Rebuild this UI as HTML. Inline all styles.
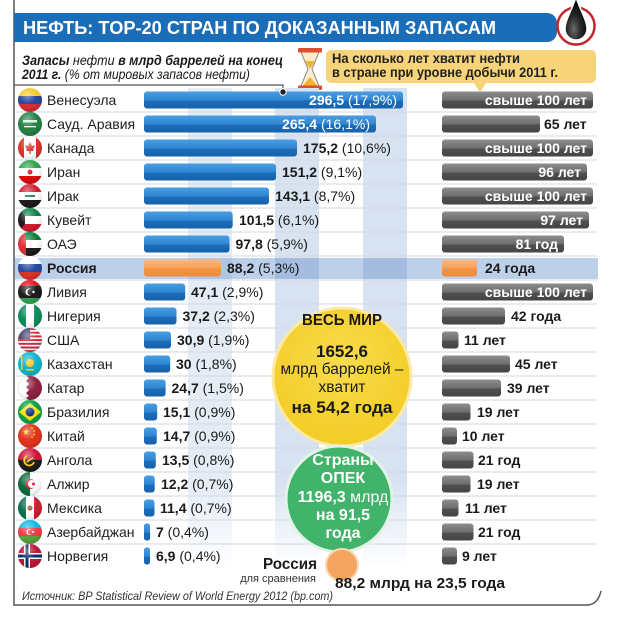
<!DOCTYPE html>
<html><head><meta charset="utf-8">
<style>
html,body{margin:0;padding:0;background:#fff;}
svg{display:block;}
text{font-family:"Liberation Sans",Arial,sans-serif;}
</style></head><body>
<svg width="627" height="617" viewBox="0 0 627 617" xmlns="http://www.w3.org/2000/svg">
<defs>
 <clipPath id="fc"><circle cx="0" cy="0" r="12"/></clipPath>
 <linearGradient id="gb" x1="0" y1="0" x2="0" y2="1">
  <stop offset="0" stop-color="#4a9de2"/><stop offset="0.5" stop-color="#2f86d2"/>
  <stop offset="0.56" stop-color="#1b6dbc"/><stop offset="1" stop-color="#1662ab"/>
 </linearGradient>
 <linearGradient id="gg" x1="0" y1="0" x2="0" y2="1">
  <stop offset="0" stop-color="#8e8e8e"/><stop offset="0.5" stop-color="#6e6e6e"/>
  <stop offset="0.56" stop-color="#505050"/><stop offset="1" stop-color="#444"/>
 </linearGradient>
 <linearGradient id="go" x1="0" y1="0" x2="0" y2="1">
  <stop offset="0" stop-color="#fbb87c"/><stop offset="0.5" stop-color="#f7a05a"/>
  <stop offset="0.56" stop-color="#f39244"/><stop offset="1" stop-color="#ef8a3c"/>
 </linearGradient>
 <linearGradient id="st1" x1="0" y1="0" x2="0" y2="1">
  <stop offset="0" stop-color="#e4ecf6"/><stop offset="0.82" stop-color="#e4ecf6"/><stop offset="1" stop-color="#e4ecf6" stop-opacity="0"/>
 </linearGradient>
 <linearGradient id="st2" x1="0" y1="0" x2="0" y2="1">
  <stop offset="0" stop-color="#d8e3f1"/><stop offset="0.82" stop-color="#d8e3f1"/><stop offset="1" stop-color="#d8e3f1" stop-opacity="0"/>
 </linearGradient>
 <radialGradient id="gl" cx="0.4" cy="0.3" r="0.75">
  <stop offset="0" stop-color="#fff" stop-opacity="0.45"/><stop offset="0.5" stop-color="#fff" stop-opacity="0.05"/>
  <stop offset="1" stop-color="#000" stop-opacity="0.15"/>
 </radialGradient>
 <radialGradient id="gy" cx="0.5" cy="0.4" r="0.6">
  <stop offset="0" stop-color="#f9dc4c"/><stop offset="1" stop-color="#f3cc26"/>
 </radialGradient>
 <radialGradient id="gd" cx="0.4" cy="0.75" r="0.6">
  <stop offset="0" stop-color="#6a6a6a"/><stop offset="0.5" stop-color="#2a2a2a"/><stop offset="1" stop-color="#0a0a0a"/>
 </radialGradient>
</defs>

<!-- frame -->
<path d="M14,0 V605 H588 Q598,604 601,591" fill="none" stroke="#555" stroke-width="1.5"/>

<!-- header -->
<path d="M14,13 H547 A10,10 0 0 1 557,23 V32 A10,10 0 0 1 547,42 H14 Z" fill="#1b6db7"/>
<text x="23" y="34" font-size="18" font-weight="bold" fill="#fff" textLength="473" lengthAdjust="spacingAndGlyphs">НЕФТЬ: TOP-20 СТРАН ПО ДОКАЗАННЫМ ЗАПАСАМ</text>
<circle cx="576" cy="26" r="18.5" fill="#fff" stroke="#c4262e" stroke-width="2.5"/>
<path d="M576,-3 C572,10 565,20 565,29 A11,11 0 0 0 587,29 C587,20 580,10 576,-3 Z" fill="url(#gd)" stroke="#fff" stroke-width="1.5"/>

<!-- subtitle -->
<text x="22" y="65" font-size="14" font-style="italic" fill="#1a1a1a" textLength="261" lengthAdjust="spacingAndGlyphs"><tspan font-weight="bold">Запасы</tspan> нефти <tspan font-weight="bold">в млрд баррелей на конец</tspan></text>
<text x="22" y="79" font-size="14" font-style="italic" fill="#1a1a1a" textLength="228" lengthAdjust="spacingAndGlyphs"><tspan font-weight="bold">2011 г.</tspan> (% от мировых запасов нефти)</text>
<path d="M14,85 H283 V90" fill="none" stroke="#555" stroke-width="1.2"/>

<!-- hourglass -->
<path d="M301,52 L319,52 L312,69 L319,86 L301,86 L308,69 Z" fill="#fbeccc" stroke="#8a8a8a" stroke-width="1"/>
<polygon points="305,61 315,61 310.6,68 309.4,68" fill="#f2b532"/>
<polygon points="302.5,86 317.5,86 310,77" fill="#f2b532"/>
<rect x="298" y="48" width="24" height="4.5" rx="1" fill="#db4f31"/>
<rect x="298" y="85.5" width="24" height="4.5" rx="1" fill="#db4f31"/>

<!-- yellow box -->
<rect x="326" y="50" width="270" height="33" rx="5" fill="#f7d47a"/>
<polygon points="473,82 487,82 480,92" fill="#f7d47a"/>
<text x="332" y="63" font-size="14" font-weight="bold" fill="#222" textLength="188" lengthAdjust="spacingAndGlyphs">На сколько лет хватит нефти</text>
<text x="332" y="77" font-size="14" font-weight="bold" fill="#222" textLength="226" lengthAdjust="spacingAndGlyphs">в стране при уровне добычи 2011 г.</text>

<!-- stripes -->
<rect x="188" y="88" width="44" height="480" fill="url(#st1)"/>
<rect x="275" y="88" width="44" height="480" fill="url(#st2)"/>
<rect x="363" y="88" width="44" height="480" fill="url(#st2)"/>

<!-- Russia band -->
<rect x="15" y="258" width="583" height="21" fill="#bdd0ea"/>
<rect x="188" y="258" width="44" height="21" fill="#afc5e4"/>
<rect x="275" y="258" width="44" height="21" fill="#a3bce0"/>
<rect x="363" y="258" width="44" height="21" fill="#a3bce0"/>

<!-- separators -->
<g stroke="#cfd8e6" stroke-width="1">
<line x1="15" x2="597" y1="112" y2="112"/><line x1="15" x2="597" y1="136" y2="136"/>
<line x1="15" x2="597" y1="160" y2="160"/><line x1="15" x2="597" y1="184" y2="184"/>
<line x1="15" x2="597" y1="208" y2="208"/><line x1="15" x2="597" y1="232" y2="232"/>
<line x1="15" x2="597" y1="256" y2="256"/><line x1="15" x2="597" y1="280" y2="280"/>
<line x1="15" x2="597" y1="304" y2="304"/><line x1="15" x2="597" y1="328" y2="328"/>
<line x1="15" x2="597" y1="352" y2="352"/><line x1="15" x2="597" y1="376" y2="376"/>
<line x1="15" x2="597" y1="400" y2="400"/><line x1="15" x2="597" y1="424" y2="424"/>
<line x1="15" x2="597" y1="448" y2="448"/><line x1="15" x2="597" y1="472" y2="472"/>
<line x1="15" x2="597" y1="496" y2="496"/><line x1="15" x2="597" y1="520" y2="520"/>
<line x1="15" x2="597" y1="544" y2="544"/>
</g>

<!-- flags -->
<g transform="translate(30,100)"><g clip-path="url(#fc)"><rect x="-12" y="-12" width="24" height="8" fill="#f4c81b"/><rect x="-12" y="-4" width="24" height="8" fill="#1d3e96"/><rect x="-12" y="4" width="24" height="8" fill="#d4232c"/></g><circle r="12" fill="url(#gl)"/></g>
<g transform="translate(30,124)"><g clip-path="url(#fc)"><rect x="-12" y="-12" width="24" height="24" fill="#1a7a3a"/><rect x="-7" y="-4" width="14" height="2.5" fill="#fff" opacity="0.85"/><rect x="-6" y="2" width="12" height="1.3" fill="#fff"/></g><circle r="12" fill="url(#gl)"/></g>
<g transform="translate(30,148)"><g clip-path="url(#fc)"><rect x="-12" y="-12" width="24" height="24" fill="#fff"/><rect x="-12" y="-12" width="6" height="24" fill="#d52b1e"/><rect x="6" y="-12" width="6" height="24" fill="#d52b1e"/><polygon points="0,-6 2,-2 5,-3 3,2 4,3 0.6,3 0.6,6 -0.6,6 -0.6,3 -4,3 -3,2 -5,-3 -2,-2" fill="#d52b1e"/></g><circle r="12" fill="url(#gl)"/></g>
<g transform="translate(30,172)"><g clip-path="url(#fc)"><rect x="-12" y="-12" width="24" height="8" fill="#239f40"/><rect x="-12" y="-4" width="24" height="8" fill="#fff"/><rect x="-12" y="4" width="24" height="8" fill="#da0000"/><circle r="2.5" fill="#da0000"/></g><circle r="12" fill="url(#gl)"/></g>
<g transform="translate(30,196)"><g clip-path="url(#fc)"><rect x="-12" y="-12" width="24" height="8" fill="#ce1126"/><rect x="-12" y="-4" width="24" height="8" fill="#fff"/><rect x="-12" y="4" width="24" height="8" fill="#111"/><rect x="-5" y="-1" width="10" height="2" fill="#007a3d"/></g><circle r="12" fill="url(#gl)"/></g>
<g transform="translate(30,220)"><g clip-path="url(#fc)"><rect x="-12" y="-12" width="24" height="8" fill="#007a3d"/><rect x="-12" y="-4" width="24" height="8" fill="#fff"/><rect x="-12" y="4" width="24" height="8" fill="#ce1126"/><polygon points="-12,-12 -5,-4 -5,4 -12,12" fill="#111"/></g><circle r="12" fill="url(#gl)"/></g>
<g transform="translate(30,244)"><g clip-path="url(#fc)"><rect x="-12" y="-12" width="24" height="8" fill="#00732f"/><rect x="-12" y="-4" width="24" height="8" fill="#fff"/><rect x="-12" y="4" width="24" height="8" fill="#111"/><rect x="-12" y="-12" width="8" height="24" fill="#e0232f"/></g><circle r="12" fill="url(#gl)"/></g>
<g transform="translate(30,268)"><g clip-path="url(#fc)"><rect x="-12" y="-12" width="24" height="8" fill="#fff"/><rect x="-12" y="-4" width="24" height="8" fill="#1c3f9e"/><rect x="-12" y="4" width="24" height="8" fill="#d52b1e"/></g><circle r="12" fill="url(#gl)"/></g>
<g transform="translate(30,292)"><g clip-path="url(#fc)"><rect x="-12" y="-12" width="24" height="6" fill="#e70013"/><rect x="-12" y="-6" width="24" height="12" fill="#111"/><rect x="-12" y="6" width="24" height="6" fill="#239e46"/><circle cx="-1" cy="0" r="3.6" fill="#fff"/><circle cx="0.4" cy="0" r="3" fill="#111"/><circle cx="3.5" cy="0" r="1.2" fill="#fff"/></g><circle r="12" fill="url(#gl)"/></g>
<g transform="translate(30,316)"><g clip-path="url(#fc)"><rect x="-12" y="-12" width="24" height="24" fill="#fff"/><rect x="-12" y="-12" width="8" height="24" fill="#008751"/><rect x="4" y="-12" width="8" height="24" fill="#008751"/></g><circle r="12" fill="url(#gl)"/></g>
<g transform="translate(30,340)"><g clip-path="url(#fc)"><rect x="-12" y="-12" width="24" height="24" fill="#fff"/><rect x="-12" y="-12" width="24" height="2" fill="#c8202f"/><rect x="-12" y="-8.3" width="24" height="2" fill="#c8202f"/><rect x="-12" y="-4.6" width="24" height="2" fill="#c8202f"/><rect x="-12" y="-0.9" width="24" height="2" fill="#c8202f"/><rect x="-12" y="2.8" width="24" height="2" fill="#c8202f"/><rect x="-12" y="6.5" width="24" height="2" fill="#c8202f"/><rect x="-12" y="10.2" width="24" height="2" fill="#c8202f"/><rect x="-12" y="-12" width="12" height="11" fill="#3c3b6e"/></g><circle r="12" fill="url(#gl)"/></g>
<g transform="translate(30,364)"><g clip-path="url(#fc)"><rect x="-12" y="-12" width="24" height="24" fill="#00afca"/><circle cx="0" cy="-1" r="4" fill="#fec50c"/><rect x="-9" y="-8" width="1.5" height="14" fill="#fec50c"/><rect x="-4" y="5" width="8" height="1.5" fill="#fec50c"/></g><circle r="12" fill="url(#gl)"/></g>
<g transform="translate(30,388)"><g clip-path="url(#fc)"><rect x="-12" y="-12" width="24" height="24" fill="#8a1538"/><polygon points="-12,-12 -4,-12 -1,-10 -4,-7 -1,-4 -4,-1 -1,2 -4,5 -1,8 -4,10 -1,12 -12,12" fill="#fff"/></g><circle r="12" fill="url(#gl)"/></g>
<g transform="translate(30,412)"><g clip-path="url(#fc)"><rect x="-12" y="-12" width="24" height="24" fill="#009c3b"/><polygon points="0,-9 11,0 0,9 -11,0" fill="#ffdf00"/><circle r="4.5" fill="#002776"/></g><circle r="12" fill="url(#gl)"/></g>
<g transform="translate(30,436)"><g clip-path="url(#fc)"><rect x="-12" y="-12" width="24" height="24" fill="#de2910"/><polygon transform="translate(-4,-4)" points="0,-3.5 0.82,-1.13 3.33,-1.08 1.33,0.43 2.06,2.83 0,1.4 -2.06,2.83 -1.33,0.43 -3.33,-1.08 -0.82,-1.13" fill="#ffde00"/><circle cx="2" cy="-8" r="0.9" fill="#ffde00"/><circle cx="4" cy="-5" r="0.9" fill="#ffde00"/><circle cx="4" cy="-1.5" r="0.9" fill="#ffde00"/><circle cx="2" cy="1" r="0.9" fill="#ffde00"/></g><circle r="12" fill="url(#gl)"/></g>
<g transform="translate(30,460)"><g clip-path="url(#fc)"><rect x="-12" y="-12" width="24" height="12" fill="#cc092f"/><rect x="-12" y="0" width="24" height="12" fill="#111"/><path d="M-3,-4 A5,5 0 1 0 4,2" fill="none" stroke="#ffcb00" stroke-width="1.8"/><rect x="-4" y="-1" width="8" height="1.6" fill="#ffcb00" transform="rotate(-35)"/></g><circle r="12" fill="url(#gl)"/></g>
<g transform="translate(30,484)"><g clip-path="url(#fc)"><rect x="-12" y="-12" width="24" height="24" fill="#fff"/><rect x="-12" y="-12" width="12" height="24" fill="#006233"/><circle cx="0.5" cy="0" r="5" fill="#d21034"/><circle cx="2" cy="0" r="4" fill="#fff"/><circle cx="3.5" cy="0" r="1.5" fill="#d21034"/></g><circle r="12" fill="url(#gl)"/></g>
<g transform="translate(30,508)"><g clip-path="url(#fc)"><rect x="-12" y="-12" width="8" height="24" fill="#006847"/><rect x="-4" y="-12" width="8" height="24" fill="#fff"/><rect x="4" y="-12" width="8" height="24" fill="#ce1126"/><circle r="2.6" fill="#8c5a2b"/></g><circle r="12" fill="url(#gl)"/></g>
<g transform="translate(30,532)"><g clip-path="url(#fc)"><rect x="-12" y="-12" width="24" height="8" fill="#00b5e2"/><rect x="-12" y="-4" width="24" height="8" fill="#ef3340"/><rect x="-12" y="4" width="24" height="8" fill="#509e2f"/><circle cx="-0.5" cy="0" r="3" fill="#fff"/><circle cx="0.4" cy="0" r="2.4" fill="#ef3340"/><circle cx="3" cy="0" r="1" fill="#fff"/></g><circle r="12" fill="url(#gl)"/></g>
<g transform="translate(30,556)"><g clip-path="url(#fc)"><rect x="-12" y="-12" width="24" height="24" fill="#ba0c2f"/><rect x="-6" y="-12" width="6" height="24" fill="#fff"/><rect x="-12" y="-3" width="24" height="6" fill="#fff"/><rect x="-4.5" y="-12" width="3" height="24" fill="#00205b"/><rect x="-12" y="-1.5" width="24" height="3" fill="#00205b"/></g><circle r="12" fill="url(#gl)"/></g>

<!-- country names -->
<g font-size="14" fill="#1e1e1e">
<text x="47" y="105">Венесуэла</text>
<text x="47" y="129">Сауд. Аравия</text>
<text x="47" y="153">Канада</text>
<text x="47" y="177">Иран</text>
<text x="47" y="201">Ирак</text>
<text x="47" y="225">Кувейт</text>
<text x="47" y="249">ОАЭ</text>
<text x="47" y="273" font-weight="bold">Россия</text>
<text x="47" y="297">Ливия</text>
<text x="47" y="321">Нигерия</text>
<text x="47" y="345">США</text>
<text x="47" y="369">Казахстан</text>
<text x="47" y="393">Катар</text>
<text x="47" y="417">Бразилия</text>
<text x="47" y="441">Китай</text>
<text x="47" y="465">Ангола</text>
<text x="47" y="489">Алжир</text>
<text x="47" y="513">Мексика</text>
<text x="47" y="537">Азербайджан</text>
<text x="47" y="561">Норвегия</text>
</g>

<!-- reserve bars -->
<g fill="url(#gb)">
<rect x="144" y="91.5" width="259" height="17" rx="3"/>
<rect x="144" y="115.5" width="232" height="17" rx="3"/>
<rect x="144" y="139.5" width="153" height="17" rx="3"/>
<rect x="144" y="163.5" width="132" height="17" rx="3"/>
<rect x="144" y="187.5" width="125" height="17" rx="3"/>
<rect x="144" y="211.5" width="88.7" height="17" rx="3"/>
<rect x="144" y="235.5" width="85.5" height="17" rx="3"/>
<rect x="144" y="283.5" width="41.2" height="17" rx="3"/>
<rect x="144" y="307.5" width="32.5" height="17" rx="3"/>
<rect x="144" y="331.5" width="27" height="17" rx="3"/>
<rect x="144" y="355.5" width="26.2" height="17" rx="3"/>
<rect x="144" y="379.5" width="21.6" height="17" rx="3"/>
<rect x="144" y="403.5" width="13.2" height="17" rx="3"/>
<rect x="144" y="427.5" width="12.8" height="17" rx="3"/>
<rect x="144" y="451.5" width="11.8" height="17" rx="3"/>
<rect x="144" y="475.5" width="10.7" height="17" rx="3"/>
<rect x="144" y="499.5" width="10.5" height="17" rx="3"/>
<rect x="144" y="523.5" width="6.1" height="17" rx="2.5"/>
<rect x="144" y="547.5" width="6" height="17" rx="2.5"/>
</g>
<rect x="144" y="259.5" width="77" height="17" rx="3" fill="url(#go)"/>
<circle cx="283" cy="92" r="3.2" fill="#222" stroke="#fff" stroke-width="1"/>

<!-- reserve labels -->
<g font-size="14" fill="#1a1a1a">
<text x="397" y="105" text-anchor="end" fill="#fff"><tspan font-weight="bold">296,5</tspan> (17,9%)</text>
<text x="370" y="129" text-anchor="end" fill="#fff"><tspan font-weight="bold">265,4</tspan> (16,1%)</text>
<text x="303" y="153"><tspan font-weight="bold">175,2</tspan> (10,6%)</text>
<text x="282" y="177"><tspan font-weight="bold">151,2</tspan> (9,1%)</text>
<text x="275" y="201"><tspan font-weight="bold">143,1</tspan> (8,7%)</text>
<text x="239" y="225"><tspan font-weight="bold">101,5</tspan> (6,1%)</text>
<text x="235.5" y="249"><tspan font-weight="bold">97,8</tspan> (5,9%)</text>
<text x="227" y="273"><tspan font-weight="bold">88,2</tspan> (5,3%)</text>
<text x="191" y="297"><tspan font-weight="bold">47,1</tspan> (2,9%)</text>
<text x="182.5" y="321"><tspan font-weight="bold">37,2</tspan> (2,3%)</text>
<text x="177" y="345"><tspan font-weight="bold">30,9</tspan> (1,9%)</text>
<text x="176" y="369"><tspan font-weight="bold">30</tspan> (1,8%)</text>
<text x="171.5" y="393"><tspan font-weight="bold">24,7</tspan> (1,5%)</text>
<text x="163" y="417"><tspan font-weight="bold">15,1</tspan> (0,9%)</text>
<text x="163" y="441"><tspan font-weight="bold">14,7</tspan> (0,9%)</text>
<text x="162" y="465"><tspan font-weight="bold">13,5</tspan> (0,8%)</text>
<text x="161" y="489"><tspan font-weight="bold">12,2</tspan> (0,7%)</text>
<text x="160" y="513"><tspan font-weight="bold">11,4</tspan> (0,7%)</text>
<text x="156" y="537"><tspan font-weight="bold">7</tspan> (0,4%)</text>
<text x="156" y="561"><tspan font-weight="bold">6,9</tspan> (0,4%)</text>
</g>

<!-- years bars -->
<g fill="url(#gg)">
<rect x="442" y="91.5" width="151" height="17" rx="3"/>
<rect x="442" y="115.5" width="98" height="17" rx="3"/>
<rect x="442" y="139.5" width="151" height="17" rx="3"/>
<rect x="442" y="163.5" width="145" height="17" rx="3"/>
<rect x="442" y="187.5" width="151" height="17" rx="3"/>
<rect x="442" y="211.5" width="147" height="17" rx="3"/>
<rect x="442" y="235.5" width="122" height="17" rx="3"/>
<rect x="442" y="283.5" width="151" height="17" rx="3"/>
<rect x="442" y="307.5" width="63" height="17" rx="3"/>
<rect x="442" y="331.5" width="16.5" height="17" rx="3"/>
<rect x="442" y="355.5" width="68" height="17" rx="3"/>
<rect x="442" y="379.5" width="59" height="17" rx="3"/>
<rect x="442" y="403.5" width="28.5" height="17" rx="3"/>
<rect x="442" y="427.5" width="15" height="17" rx="3"/>
<rect x="442" y="451.5" width="31.5" height="17" rx="3"/>
<rect x="442" y="475.5" width="28.5" height="17" rx="3"/>
<rect x="442" y="499.5" width="16.5" height="17" rx="3"/>
<rect x="442" y="523.5" width="31.5" height="17" rx="3"/>
<rect x="442" y="547.5" width="15" height="17" rx="3"/>
</g>
<rect x="442" y="259.5" width="35" height="17" rx="3" fill="url(#go)"/>

<!-- years labels -->
<g font-size="14" font-weight="bold" fill="#1a1a1a">
<text x="587" y="105" text-anchor="end" fill="#fff">свыше 100 лет</text>
<text x="544" y="129">65 лет</text>
<text x="587" y="153" text-anchor="end" fill="#fff">свыше 100 лет</text>
<text x="581" y="177" text-anchor="end" fill="#fff">96 лет</text>
<text x="587" y="201" text-anchor="end" fill="#fff">свыше 100 лет</text>
<text x="583" y="225" text-anchor="end" fill="#fff">97 лет</text>
<text x="558" y="249" text-anchor="end" fill="#fff">81 год</text>
<text x="485" y="273">24 года</text>
<text x="587" y="297" text-anchor="end" fill="#fff">свыше 100 лет</text>
<text x="511" y="321">42 года</text>
<text x="464" y="345">11 лет</text>
<text x="515" y="369">45 лет</text>
<text x="507" y="393">39 лет</text>
<text x="477" y="417">19 лет</text>
<text x="462" y="441">10 лет</text>
<text x="478" y="465">21 год</text>
<text x="477" y="489">19 лет</text>
<text x="465" y="513">11 лет</text>
<text x="478" y="537">21 год</text>
<text x="462" y="561">9 лет</text>
</g>

<!-- circles -->
<circle cx="342" cy="377" r="69" fill="url(#gy)" stroke="#fbeaa6" stroke-width="3"/>
<circle cx="339" cy="499" r="53" fill="#42b36a" stroke="#e3f3e8" stroke-width="3"/>
<circle cx="342" cy="565" r="16" fill="#f3a55f" stroke="#fbd9b5" stroke-width="2"/>

<g text-anchor="middle" fill="#1a1a1a">
<text x="342" y="325" font-size="16" font-weight="bold" textLength="80" lengthAdjust="spacingAndGlyphs">ВЕСЬ МИР</text>
<text x="342" y="357" font-size="17" font-weight="bold">1652,6</text>
<text x="342" y="374" font-size="15.5">млрд баррелей –</text>
<text x="342" y="392" font-size="15.5">хватит</text>
<text x="342" y="413" font-size="17" font-weight="bold" textLength="101" lengthAdjust="spacingAndGlyphs">на 54,2 года</text>
</g>
<g text-anchor="middle" fill="#fff" font-size="16" font-weight="bold">
<text x="343" y="465">Страны</text>
<text x="343" y="483">ОПЕК</text>
<text x="343" y="502">1196,3 <tspan font-weight="normal">млрд</tspan></text>
<text x="343" y="520">на 91,5</text>
<text x="343" y="538">года</text>
</g>

<text x="317" y="569" text-anchor="end" font-size="16" font-weight="bold" fill="#1a1a1a" textLength="54" lengthAdjust="spacingAndGlyphs">Россия</text>
<text x="316" y="582" text-anchor="end" font-size="11" fill="#333">для сравнения</text>
<text x="335" y="588" font-size="15" font-weight="bold" fill="#1a1a1a" textLength="170" lengthAdjust="spacingAndGlyphs">88,2 млрд на 23,5 года</text>

<text x="22" y="600" font-size="12" font-style="italic" fill="#333" textLength="311" lengthAdjust="spacingAndGlyphs">Источник: BP Statistical Review of World Energy 2012 (bp.com)</text>
</svg>
</body></html>
